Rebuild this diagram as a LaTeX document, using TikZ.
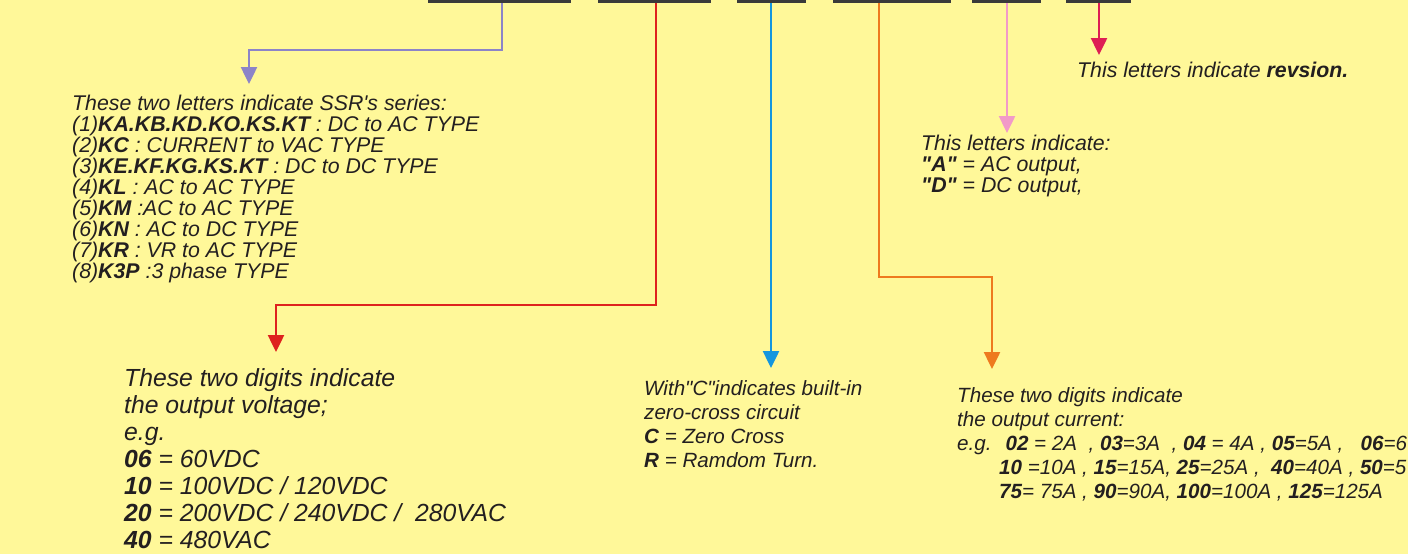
\documentclass[tikz,border=0pt]{standalone}
\usepackage{fontspec}
\setmainfont{Liberation Sans}[Ligatures=TeXOff]
\usetikzlibrary{arrows.meta}
\definecolor{fondo}{RGB}{255,248,153}
\definecolor{ink}{RGB}{35,31,32}
\definecolor{barcol}{RGB}{58,58,58}
\definecolor{lila}{RGB}{140,132,200}
\definecolor{rojo}{RGB}{222,34,30}
\definecolor{azul}{RGB}{20,150,222}
\definecolor{naranja}{RGB}{238,122,30}
\definecolor{rosa}{RGB}{242,154,200}
\definecolor{carmin}{RGB}{222,30,84}

\begin{document}
\begin{tikzpicture}[x=1pt,y=-1pt]
\tikzset{
  barseg/.style={fill=barcol,inner sep=0pt,minimum height=2.5pt},
  conn/.style={line width=2.5pt,-{Triangle[width=16pt,length=17pt]}},
  txt/.style={anchor=north west,inner sep=0pt,align=left,text=ink},
  small/.style={font=\fontsize{21.3}{21}\selectfont\itshape},
  mid/.style={font=\fontsize{20.6}{24}\selectfont\itshape},
  big/.style={font=\fontsize{24.75}{27}\selectfont\itshape}
}
\useasboundingbox (0,0) rectangle (1408,554);
\fill[fondo] (0,0) rectangle (1408,554);

% salidas y puntas
\coordinate (s1) at (502,0);  \coordinate (k1) at (249,50);  \coordinate (t1) at (249,84);
\coordinate (s2) at (656,0);  \coordinate (k2) at (276,305); \coordinate (t2) at (276,352);
\coordinate (s3) at (771,0);  \coordinate (t3) at (771,368);
\coordinate (s4) at (879,0);  \coordinate (k4) at (992,277); \coordinate (t4) at (992,369);
\coordinate (s5) at (1007,0); \coordinate (t5) at (1007,133);
\coordinate (s6) at (1099,0); \coordinate (t6) at (1099,55);

% conectores
\draw[conn,lila] (s1) |- (k1) -- (t1);
\draw[conn,rojo] (s2) |- (k2) -- (t2);
\draw[conn,azul] (s3) -- (t3);
\draw[conn,naranja] (s4) |- (k4) -- (t4);
\draw[conn,rosa] (s5) -- (t5);
\draw[conn,carmin] (s6) -- (t6);

% segmentos del codigo
\node[barseg,minimum width=143pt] (b1) at (499.5,1.25) {};
\node[barseg,minimum width=113pt] (b2) at (654.5,1.25) {};
\node[barseg,minimum width=69pt]  (b3) at (771.5,1.25) {};
\node[barseg,minimum width=118pt] (b4) at (892,1.25) {};
\node[barseg,minimum width=69pt]  (b5) at (1006.5,1.25) {};
\node[barseg,minimum width=65pt]  (b6) at (1098.5,1.25) {};

% textos
\node[txt,small] (series) at (72,95) {These two letters indicate SSR's series:\\
(1)\textbf{KA.KB.KD.KO.KS.KT} : DC to AC TYPE\\
(2)\textbf{KC} : CURRENT to VAC TYPE\\
(3)\textbf{KE.KF.KG.KS.KT} : DC to DC TYPE\\
(4)\textbf{KL} : AC to AC TYPE\\
(5)\textbf{KM} :AC to AC TYPE\\
(6)\textbf{KN} : AC to DC TYPE\\
(7)\textbf{KR} : VR to AC TYPE\\
(8)\textbf{K3P} :3 phase TYPE};

\node[txt,big] (volt) at (124,368) {These two digits indicate\\
the output voltage;\\
e.g.\\
\textbf{06} = 60VDC\\
\textbf{10} = 100VDC / 120VDC\\
\textbf{20} = 200VDC / 240VDC / \ 280VAC\\
\textbf{40} = 480VAC};

\node[txt,mid] (zc) at (644,380) {With"C"indicates built-in\\
zero-cross circuit\\
\textbf{C} = Zero Cross\\
\textbf{R} = Ramdom Turn.};

\node[txt,mid] (curr) at (957,387) {These two digits indicate\\
the output current:\\
e.g.\hspace{14pt}\textbf{02} = 2A \ , \textbf{03}=3A \ , \textbf{04} = 4A , \textbf{05}=5A , \ \ \textbf{06}=6\\
\hspace*{42pt}\textbf{10} =10A , \textbf{15}=15A, \textbf{25}=25A , \ \textbf{40}=40A , \textbf{50}=5\\
\hspace*{42pt}\textbf{75}= 75A , \textbf{90}=90A, \textbf{100}=100A , \textbf{125}=125A};

\node[txt,small] (acdc) at (921,135) {This letters indicate:\\
\textbf{"A"} = AC output,\\
\textbf{"D"} = DC output,};

\node[txt,small] (rev) at (1077,62) {This letters indicate \textbf{revsion.}};
\end{tikzpicture}
\end{document}
